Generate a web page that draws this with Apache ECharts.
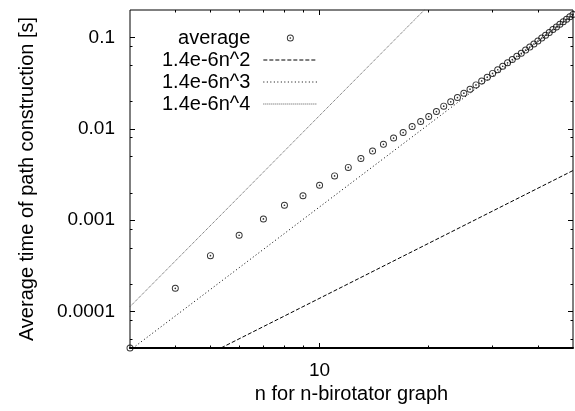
<!DOCTYPE html>
<html><head><meta charset="utf-8">
<script src="https://cdn.jsdelivr.net/npm/echarts@6/dist/echarts.min.js"></script>
<style>html,body{margin:0;padding:0;background:#fff}#c{width:575px;height:411px}</style>
</head><body><div id="c"></div>
<script>
// n values (x) and measured average time (y, seconds)
const nValues = [3,4,5,6,7,8,9,10,11,12,13,14,15,16,17,18,19,20,21,22,23,24,25,26,27,28,29,30,31,32,33,34,35,36,37,38,39,40,41,42,43,44,45,46,47,48,49,50];
const avgTime = [4.0e-5,1.80e-4,4.10e-4,6.86e-4,1.035e-3,1.46e-3,1.85e-3,2.41e-3,3.06e-3,3.79e-3,4.73e-3,5.71e-3,6.77e-3,7.94e-3,9.12e-3,1.062e-2,1.203e-2,1.364e-2,1.548e-2,1.774e-2,1.977e-2,2.20e-2,2.46e-2,2.72e-2,3.03e-2,3.35e-2,3.68e-2,4.05e-2,4.44e-2,4.85e-2,5.28e-2,5.74e-2,6.22e-2,6.73e-2,7.28e-2,7.85e-2,8.49e-2,9.16e-2,9.85e-2,0.106,0.1137,0.1221,0.1306,0.1396,0.1491,0.1585,0.1685,0.179];
// reference power-law lines, endpoints at n = 3 and n = 50
const fitN = [3, 50];
const fitN2 = [1.26e-5, 3.5e-3];
const fitN3 = [3.78e-5, 0.175];
const fitN4 = [1.134e-4, 8.75];
const seriesNames = ['average', '1.4e-6n^2', '1.4e-6n^3', '1.4e-6n^4'];
// axes
const xRange = [3, 50];
const yRange = [4e-5, 0.2];
const xMajorTicks = [10];
const xMinorTicks = [4,5,6,7,8,9,20,30,40];
const yMajorTicks = [0.0001, 0.001, 0.01, 0.1];
const yMinorTicks = [5e-5, 8e-5, 2e-4, 5e-4, 8e-4, 2e-3, 5e-3, 8e-3, 0.02, 0.05, 0.08];
const xTitle = 'n for n-birotator graph';
const yTitle = 'Average time of path construction [s]';

const FONT = '"Liberation Sans", Arial, sans-serif';
const ring = 'path://M10,0A10,10,0,1,1,-10,0A10,10,0,1,1,10,0ZM7.2,0A7.2,7.2,0,1,0,-7.2,0A7.2,7.2,0,1,0,7.2,0ZM2.4,0A2.4,2.4,0,1,1,-2.4,0A2.4,2.4,0,1,1,2.4,0Z';
const fmt = v => String(Number(Number(v).toPrecision(6)));
const dashes = [[4, 2], [1, 2.5], [1, 1]];
const lineColors = ['#000', '#000', '#555'];

function xAx(pos, ticks, len, labels, extra) {
  return Object.assign({
    type: 'log', logBase: 10, position: pos, min: xRange[0], max: xRange[1],
    axisLine: {show: false}, splitLine: {show: false},
    axisTick: {show: true, inside: true, length: len, customValues: ticks, lineStyle: {color: '#000', width: 1}},
    axisLabel: labels ? {show: true, customValues: ticks, formatter: fmt, margin: 13, fontSize: 19, color: '#000', fontFamily: FONT} : {show: false}
  }, extra || {});
}
function yAx(pos, ticks, len, labels, extra) {
  return Object.assign({
    type: 'log', logBase: 10, position: pos, min: yRange[0], max: yRange[1],
    axisLine: {show: false}, splitLine: {show: false},
    axisTick: {show: true, inside: true, length: len, customValues: ticks, lineStyle: {color: '#000', width: 1}},
    axisLabel: labels ? {show: true, customValues: ticks, formatter: fmt, margin: 15, fontSize: 19, color: '#000', fontFamily: FONT} : {show: false}
  }, extra || {});
}

const lineLegend = i => ({
  name: seriesNames[i + 1],
  itemStyle: {opacity: 0},
  lineStyle: {width: 1, type: dashes[i], color: lineColors[i], opacity: 1}
});

const chart = echarts.init(document.getElementById('c'), null, {renderer: 'canvas'});
chart.setOption({
  animation: false,
  backgroundColor: '#fff',
  grid: {left: 130, right: 2, top: 10, bottom: 63, show: true, borderColor: '#000', borderWidth: 1, backgroundColor: 'transparent'},
  xAxis: [
    xAx('bottom', xMajorTicks, 5, true, {axisLine: {show: true, lineStyle: {color: '#000', width: 2}},
      name: xTitle, nameLocation: 'middle', nameGap: 34, nameTextStyle: {fontSize: 20, color: '#000', fontFamily: FONT}}),
    xAx('bottom', xMinorTicks, 2.5, false),
    xAx('top', xMajorTicks, 5, false),
    xAx('top', xMinorTicks, 2.5, false)
  ],
  yAxis: [
    yAx('left', yMajorTicks, 5, true, {name: yTitle, nameLocation: 'middle', nameGap: 93, nameTextStyle: {fontSize: 20, color: '#000', fontFamily: FONT}}),
    yAx('left', yMinorTicks, 2.5, false),
    yAx('right', yMajorTicks, 5, false),
    yAx('right', yMinorTicks, 2.5, false)
  ],
  legend: {
    orient: 'vertical', align: 'right', left: 162, top: 28, padding: 0,
    itemWidth: 54, itemHeight: 7, itemGap: 2, selectedMode: false,
    textStyle: {fontSize: 20, color: '#000', fontFamily: FONT, padding: [0, 8, 0, 0]},
    data: [{name: seriesNames[0], icon: ring}, lineLegend(0), lineLegend(1), lineLegend(2)]
  },
  series: [
    {name: seriesNames[0], type: 'scatter', symbol: ring, symbolSize: 7, itemStyle: {color: '#000'},
     data: nValues.map((n, i) => [n, avgTime[i]]), clip: false, z: 5},
    {name: seriesNames[1], type: 'line', symbol: 'none', showSymbol: false, lineStyle: {color: lineColors[0], width: 1, type: dashes[0]},
     itemStyle: {color: lineColors[0]}, data: fitN.map((n, i) => [n, fitN2[i]])},
    {name: seriesNames[2], type: 'line', symbol: 'none', showSymbol: false, lineStyle: {color: lineColors[1], width: 1, type: dashes[1]},
     itemStyle: {color: lineColors[1]}, data: fitN.map((n, i) => [n, fitN3[i]])},
    {name: seriesNames[3], type: 'line', symbol: 'none', showSymbol: false, lineStyle: {color: lineColors[2], width: 1, type: dashes[2]},
     itemStyle: {color: lineColors[2]}, data: fitN.map((n, i) => [n, fitN4[i]])}
  ]
});
</script></body></html>
